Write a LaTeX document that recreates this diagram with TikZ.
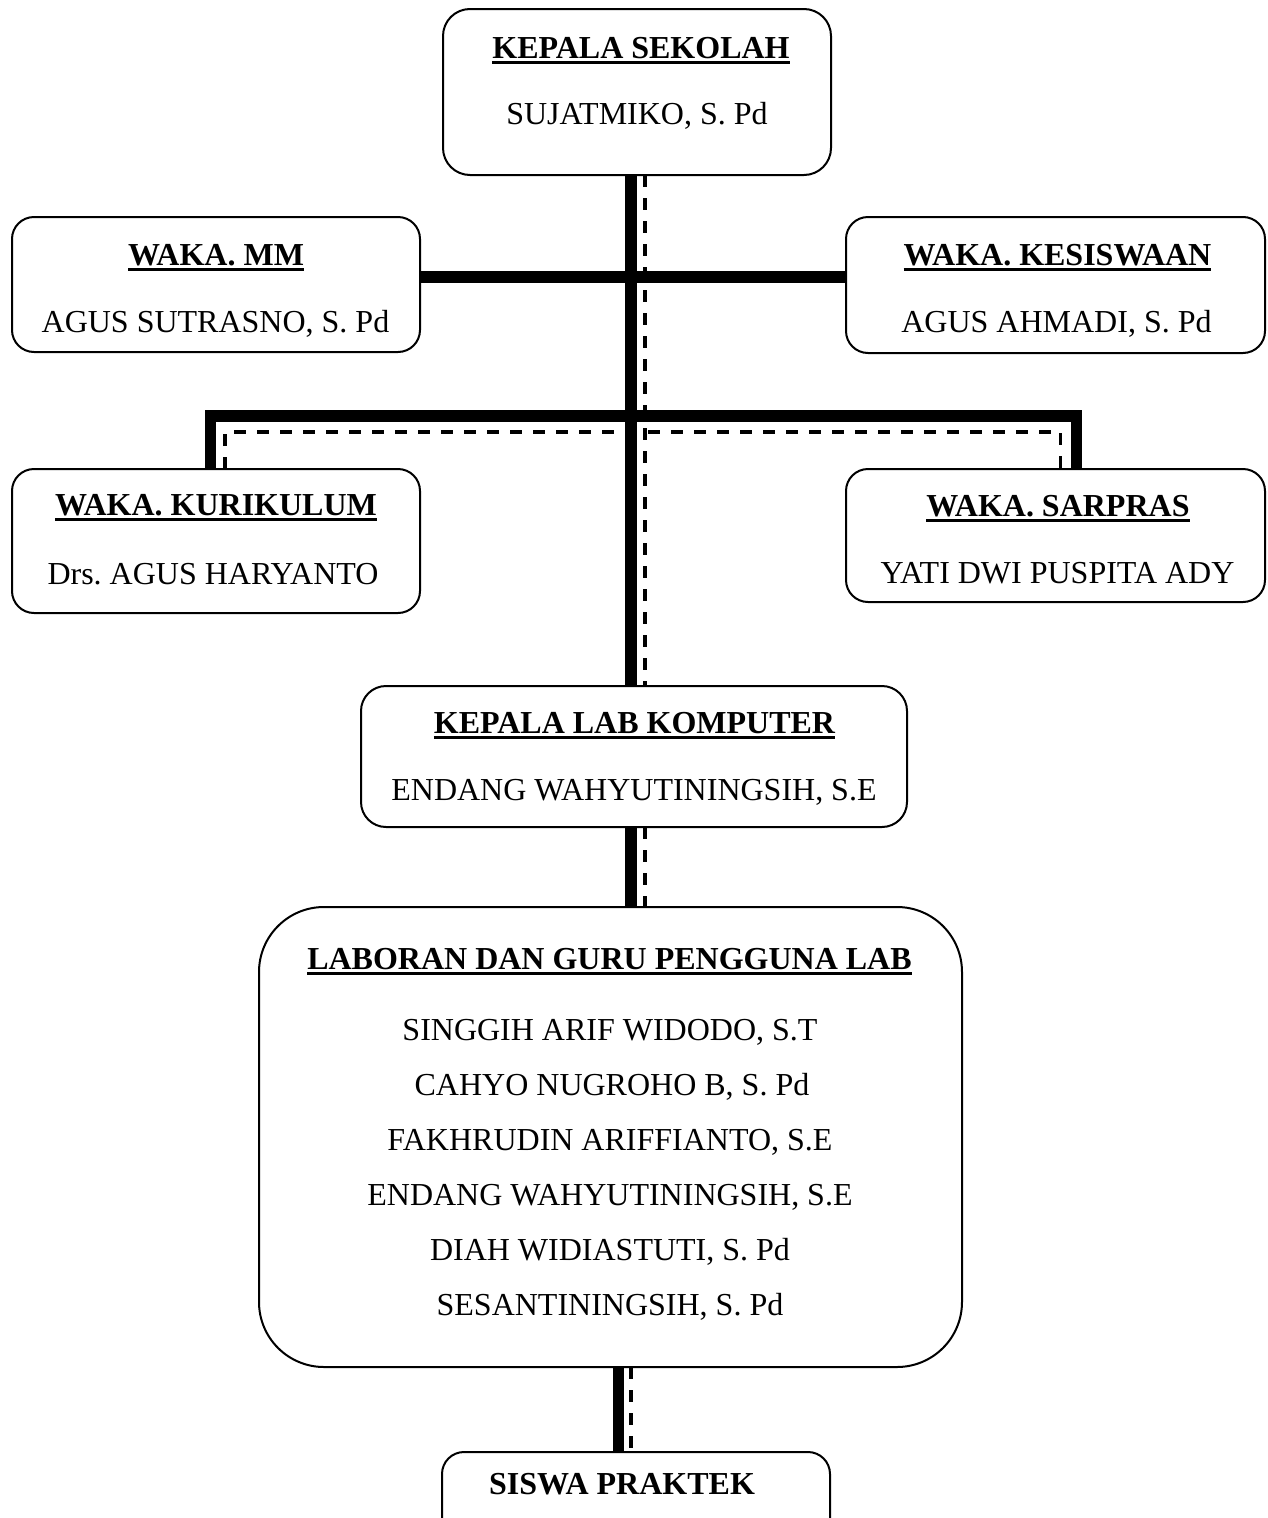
\documentclass[tikz,border=0pt]{standalone}
\usepackage{fontspec}
\setmainfont{Liberation Serif}
\usetikzlibrary{backgrounds}
\frenchspacing
\newsavebox{\ulbox}
\newcommand{\ult}[1]{\sbox{\ulbox}{\bfseries #1}\rlap{\rule[-6.3pt]{\wd\ulbox}{3pt}}\usebox{\ulbox}}
\begin{document}
\begin{tikzpicture}[x=1pt,y=-1pt,
  orgbox/.style={draw=black, line width=2pt, fill=white, rounded corners=#1, inner sep=0pt, outer sep=0pt},
  orgbox/.default=24pt,
  lbl/.style={inner sep=0pt, outer sep=0pt, anchor=base, font=\fontsize{32}{38}\selectfont},
  solidlink/.style={line width=11.5pt, line cap=butt, line join=miter},
  dashlink/.style={line width=3.5pt, line cap=butt, dash pattern=on 12pt off 11pt}]

\useasboundingbox (0,0) rectangle (1267,1518);
\clip (0,0) rectangle (1267,1518);

% boxes
\node[orgbox=27pt, minimum width=388pt, minimum height=166pt] (ks) at (637,92) {};
\node[orgbox=22pt, minimum width=408pt, minimum height=135pt] (mm) at (216,284.5) {};
\node[orgbox=22pt, minimum width=419pt, minimum height=136pt] (kes) at (1055.5,285) {};
\node[orgbox=22pt, minimum width=408pt, minimum height=144pt] (kur) at (216,541) {};
\node[orgbox=22pt, minimum width=419pt, minimum height=133pt] (sar) at (1055.5,535.5) {};
\node[orgbox=25pt, minimum width=546pt, minimum height=141pt] (lab) at (634,756.5) {};
\node[orgbox=65pt, minimum width=703pt, minimum height=460pt] (lab2) at (610.5,1137) {};
\node[orgbox=22pt, minimum width=388pt, minimum height=110pt] (siswa) at (636,1507) {};

% texts
\node[lbl] (ks-t) at (641,58) {\ult{KEPALA SEKOLAH}};
\node[lbl] (ks-n) at (637,124) {SUJATMIKO, S. Pd};
\node[lbl] (mm-t) at (216,265) {\ult{WAKA. MM}};
\node[lbl] (mm-n) at (215.5,332) {AGUS SUTRASNO, S. Pd};
\node[lbl] (kes-t) at (1057.5,265) {\ult{WAKA. KESISWAAN}};
\node[lbl] (kes-n) at (1056.5,332) {AGUS AHMADI, S. Pd};
\node[lbl] (kur-t) at (216,515) {\ult{WAKA. KURIKULUM}};
\node[lbl] (kur-n) at (213,584) {Drs. AGUS HARYANTO};
\node[lbl] (sar-t) at (1058,516) {\ult{WAKA. SARPRAS}};
\node[lbl] (sar-n) at (1057.5,583) {YATI DWI PUSPITA ADY};
\node[lbl] (lab-t) at (634.5,733) {\ult{KEPALA LAB KOMPUTER}};
\node[lbl] (lab-n) at (634,800) {ENDANG WAHYUTININGSIH, S.E};
\node[lbl] (lab2-t) at (609.5,969) {\ult{LABORAN DAN GURU PENGGUNA LAB}};
\node[lbl] (lab2-n1) at (610,1040) {SINGGIH ARIF WIDODO, S.T};
\node[lbl] (lab2-n2) at (612,1095) {CAHYO NUGROHO B, S. Pd};
\node[lbl] (lab2-n3) at (610,1150) {FAKHRUDIN ARIFFIANTO, S.E};
\node[lbl] (lab2-n4) at (610,1205) {ENDANG WAHYUTININGSIH, S.E};
\node[lbl] (lab2-n5) at (610,1260) {DIAH WIDIASTUTI, S. Pd};
\node[lbl] (lab2-n6) at (610,1315) {SESANTININGSIH, S. Pd};
\node[lbl] (siswa-t) at (622,1494) {\bfseries SISWA PRAKTEK};

% connectors
\begin{pgfonlayer}{background}
\coordinate (tA) at (631,0);
\coordinate (dA) at (645,0);
\coordinate (tB) at (618.5,0);
\coordinate (dB) at (631,0);
\coordinate (dL) at (225,432);
\coordinate (dR) at (1060.7,432);
\coordinate (sL) at (210.5,416);
\coordinate (sR) at (1076.5,416);
\coordinate (hM) at (0,277);
\draw[dashlink] (ks.south -| dA) -- (lab.north -| dA);
\draw[dashlink] (kur.north -| dL) -- (dL) -- (dR) -- (sar.north -| dR);
\draw[solidlink] (kur.north -| sL) -- (sL) -- (sR) -- (sar.north -| sR);
\draw[solidlink] (mm.east |- hM) -- (kes.west |- hM);
\draw[solidlink] (ks.south -| tA) -- (lab.north -| tA);
\draw[dashlink] (lab.south -| dA) -- (lab2.north -| dA);
\draw[solidlink] (lab.south -| tA) -- (lab2.north -| tA);
\draw[dashlink] (lab2.south -| dB) -- (siswa.north -| dB);
\draw[solidlink] (lab2.south -| tB) -- (siswa.north -| tB);
\end{pgfonlayer}
\end{tikzpicture}
\end{document}
